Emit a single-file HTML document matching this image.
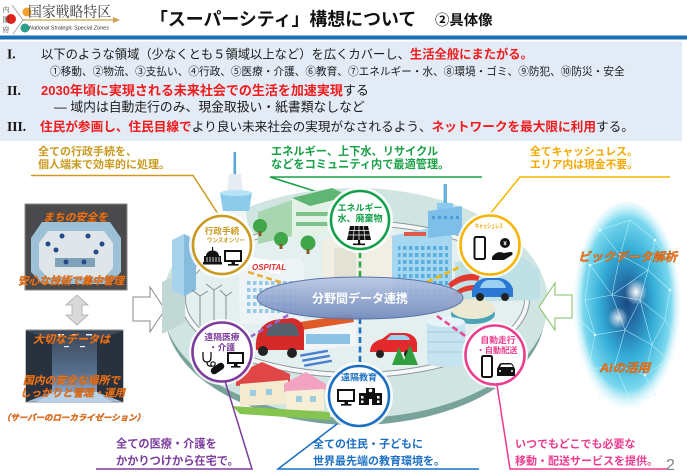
<!DOCTYPE html>
<html lang="ja"><head><meta charset="utf-8"><title>スーパーシティ構想</title>
<style>
html,body{margin:0;padding:0;background:#fff}
svg{display:block}
text{font-family:"Liberation Sans","Noto Sans CJK JP",sans-serif}
.serif{font-family:"Liberation Serif","Noto Serif CJK SC",serif}
.mincho{font-family:"Noto Serif CJK SC","Liberation Serif",serif}
.org{fill:#f27a1c;stroke:#b85410;stroke-width:0.35;font-weight:bold;font-style:italic}
</style></head><body>
<svg width="687" height="473" viewBox="0 0 687 473" xmlns="http://www.w3.org/2000/svg">
<defs>
<radialGradient id="bd" cx="0.5" cy="0.47" r="0.5">
<stop offset="0" stop-color="#1a4a82"/>
<stop offset="0.22" stop-color="#2470a8"/>
<stop offset="0.5" stop-color="#34aed8"/>
<stop offset="0.8" stop-color="#7ad8ee"/>
<stop offset="1" stop-color="#e8fbff" stop-opacity="0"/>
</radialGradient>
<radialGradient id="spot" cx="0.5" cy="0.5" r="0.5">
<stop offset="0" stop-color="#fff"/>
<stop offset="1" stop-color="#fff" stop-opacity="0"/>
</radialGradient>
<linearGradient id="ce" x1="0" y1="0" x2="0" y2="1">
<stop offset="0" stop-color="#b8c7e4" stop-opacity="0.92"/>
<stop offset="1" stop-color="#6f87bb" stop-opacity="0.92"/>
</linearGradient>
<linearGradient id="srv" x1="0" y1="0" x2="0" y2="1">
<stop offset="0" stop-color="#3a4658"/>
<stop offset="0.6" stop-color="#56708e"/>
<stop offset="1" stop-color="#a9c4e2"/>
</linearGradient>
<pattern id="win" width="6" height="7" patternUnits="userSpaceOnUse"><rect x="1" y="1" width="3.5" height="4" fill="#5aaee0"/></pattern>
<clipPath id="oc"><ellipse cx="627" cy="310" rx="48" ry="100"/></clipPath>
</defs>
<rect width="687" height="473" fill="#fff"/>

<!-- ===== header logo ===== -->
<line x1="12" y1="5" x2="23" y2="20" stroke="#9a9a9a" stroke-width="0.8"/>
<line x1="23" y1="20" x2="13" y2="34" stroke="#9a9a9a" stroke-width="0.8"/>
<line x1="23" y1="20" x2="114" y2="20" stroke="#c8a24e" stroke-width="1.2"/>
<polygon points="113,17 120,20 113,23" fill="#c8a24e"/>
<circle cx="27" cy="12" r="4.5" fill="#f2a22c"/>
<circle cx="11" cy="19" r="5" fill="#e3221b"/>
<circle cx="25" cy="28" r="4.5" fill="#2b9e8d"/>
<g font-size="7" fill="#444"><text class="mincho" x="2.5" y="12">内</text><text class="mincho" x="2.5" y="22">閣</text><text class="mincho" x="2.5" y="32">府</text></g>
<text class="mincho" x="28" y="17" font-size="14.5" fill="#3a3a3a" textLength="83" lengthAdjust="spacingAndGlyphs">国家戦略特区</text>
<text x="29" y="29.5" font-size="5.6" font-style="italic" fill="#333" textLength="80" lengthAdjust="spacingAndGlyphs">National Strategic Special Zones</text>

<!-- title -->
<text x="150" y="25.5" font-size="17.9" font-weight="bold" fill="#111">「スーパーシティ」構想について</text>
<text x="435" y="25" font-size="14.4" font-weight="bold" fill="#111">②具体像</text>

<rect x="0" y="35.5" width="687" height="4" fill="#1d6fb6"/>
<rect x="0" y="41.5" width="682" height="99.5" fill="#e3ebf6"/>

<!-- text block -->
<g font-size="13.5" font-weight="bold" fill="#111">
<text class="serif" x="7" y="58.5">I.</text>
<text class="serif" x="7" y="95">II.</text>
<text class="serif" x="7" y="131">III.</text>
</g>
<text x="41" y="58.5" font-size="12.3" fill="#1a1a1a">以下のような領域（少なくとも５領域以上など）を広くカバーし、<tspan fill="#f01c1c" font-weight="bold">生活全般にまたがる。</tspan></text>
<text x="50" y="75" font-size="10.65" fill="#1a1a1a">①移動、②物流、③支払い、④行政、⑤医療・介護、⑥教育、⑦エネルギー・水、⑧環境・ゴミ、⑨防犯、⑩防災・安全</text>
<text x="41" y="95" font-size="13" font-weight="bold" fill="#f01c1c">2030年頃に実現される未来社会での生活を加速実現<tspan fill="#1a1a1a" font-weight="normal">する</tspan></text>
<text x="54" y="111.5" font-size="12.8" fill="#1a1a1a">— 域内は自動走行のみ、現金取扱い・紙書類なしなど</text>
<text x="40" y="131" font-size="12.65" fill="#1a1a1a"><tspan fill="#f01c1c" font-weight="bold">住民が参画し、住民目線で</tspan>より良い未来社会の実現がなされるよう、<tspan fill="#f01c1c" font-weight="bold">ネットワークを最大限に利用</tspan>する。</text>

<!-- ===== callouts top ===== -->
<g font-size="11" font-weight="bold" fill="#c99a1f">
<text x="38" y="155">全ての行政手続を、</text>
<text x="38" y="168">個人端末で効率的に処理。</text>
</g>
<polyline points="31,175.5 193,175.5 220,217" fill="none" stroke="#c99a1f" stroke-width="1.5"/>

<g font-size="11.2" font-weight="bold" fill="#19a047">
<text x="271" y="155">エネルギー、上下水、リサイクル</text>
<text x="271" y="168">などをコミュニティ内で最適管理。</text>
</g>
<polyline points="482,177 270,177 340,199" fill="none" stroke="#19a047" stroke-width="1.5"/>

<g font-size="10.8" font-weight="bold" fill="#f5a800">
<text x="530" y="155">全てキャッシュレス。</text>
<text x="530" y="168">エリア内は現金不要。</text>
</g>
<polyline points="670,177 520,177 490,214" fill="none" stroke="#f7b500" stroke-width="1.5"/>

<!-- ===== left panels ===== -->
<rect x="25" y="204" width="102" height="86" fill="#4a4a4c" stroke="#8a8a8a" stroke-width="1"/>
<polygon points="42,222 110,222 121,238 121,272 110,284 42,284 31,272 31,238" fill="#9cc0d6"/>
<polygon points="48,231 104,231 113,243 113,268 104,278 48,278 39,268 39,243" fill="#dfe6ea"/>
<rect x="55" y="258" width="40" height="9" fill="#7fa2b8"/>
<g fill="#24488a"><circle cx="48" cy="244" r="2.5"/><circle cx="62" cy="236" r="2.5"/><circle cx="88" cy="236" r="2.5"/><circle cx="102" cy="244" r="2.5"/><circle cx="56" cy="250" r="2.5"/><circle cx="96" cy="252" r="2.5"/><circle cx="66" cy="262" r="2.5"/><circle cx="84" cy="262" r="2.5"/></g>
<text class="org" x="43" y="221" font-size="10.8" textLength="65" lengthAdjust="spacingAndGlyphs">まちの安全を</text>
<text class="org" x="18" y="284.5" font-size="10.8" textLength="106" lengthAdjust="spacingAndGlyphs">安心な技術で集中管理</text>

<polygon points="77,295 88,305 82,305 82,315 88,315 77,325 66,315 72,315 72,305 66,305" fill="#d9d9d9" stroke="#a8a8a8" stroke-width="0.8"/>

<rect x="26" y="330" width="97" height="72" fill="url(#srv)" stroke="#8a8a8a" stroke-width="1"/>
<polygon points="26,331 52,340 52,392 26,402" fill="#28323f"/>
<polygon points="123,331 97,340 97,392 123,402" fill="#28323f"/>
<polygon points="52,392 97,392 112,402 37,402" fill="#b9d2ec"/>
<g fill="#e8f0ff"><rect x="58" y="334" width="6" height="1.5"/><rect x="72" y="334" width="6" height="1.5"/><rect x="86" y="334" width="6" height="1.5"/><rect x="64" y="346" width="5" height="1.2"/><rect x="80" y="346" width="5" height="1.2"/></g>
<text class="org" x="33" y="343" font-size="11" textLength="77" lengthAdjust="spacingAndGlyphs">大切なデータは</text>
<text class="org" x="23" y="384" font-size="10.8" textLength="97" lengthAdjust="spacingAndGlyphs">国内の安全な場所で</text>
<text class="org" x="20" y="396.5" font-size="10.5" textLength="105" lengthAdjust="spacingAndGlyphs">しっかりと管理・運用</text>
<text class="org" x="2" y="420.5" font-size="8.4" textLength="143" lengthAdjust="spacingAndGlyphs">（サーバーのローカライゼーション）</text>

<polygon points="133,297 150,297 150,287 165,309.5 150,332 150,321 133,321" fill="#fff" stroke="#8a8a8a" stroke-width="1"/>

<!-- ===== city ===== -->
<ellipse cx="355" cy="313" rx="190" ry="112" fill="#78a39b"/>
<ellipse cx="355" cy="303" rx="193" ry="115" fill="#d0e5e1"/>
<ellipse cx="355" cy="299" rx="172" ry="76" fill="#e4f0ef"/>
<ellipse cx="355" cy="299" rx="172" ry="76" fill="none" stroke="#8d979b" stroke-width="6"/>
<ellipse cx="355" cy="299" rx="172" ry="76" fill="none" stroke="#f6f8f8" stroke-width="4"/>
<!-- left slab -->
<polygon points="162,282 185,270 185,322 162,334" fill="#c2d8d4"/>
<!-- left towers -->
<polygon points="172,240 184,234 196,240 196,290 184,296 172,290" fill="#a7d4ec"/>
<polygon points="184,234 196,240 196,290 184,296" fill="#86bcdc"/>
<!-- tower -->
<rect x="233.5" y="152" width="2.6" height="24" fill="#5aa8d8"/>
<polygon points="229,174 241,174 243,193 227,193" fill="#e6edf2"/>
<path d="M220 193 L252 193 L249 211 L223 211 Z" fill="#8ccbea"/>
<ellipse cx="236" cy="193" rx="16" ry="3" fill="#b8e2f6"/>
<polygon points="226,211 246,211 250,240 222,240" fill="#f2f5f7"/>
<!-- green buildings -->
<polygon points="258,212 292,200 292,236 258,244" fill="#a8d6b0"/>
<polygon points="292,198 332,188 350,196 350,234 292,238" fill="#e4f1e6"/>
<polygon points="292,198 332,188 350,196 310,206" fill="#5fb674"/>
<g fill="#7cc48c"><rect x="296" y="212" width="52" height="4"/><rect x="296" y="222" width="52" height="4"/></g>
<circle cx="260" cy="226" r="7" fill="#3fa64a"/>
<circle cx="281" cy="239" r="7" fill="#3fa64a"/>
<circle cx="308" cy="243" r="7.5" fill="#3fa64a"/>
<rect x="258.5" y="231" width="3" height="5" fill="#8b5a2b"/><rect x="279.5" y="244" width="3" height="5" fill="#8b5a2b"/><rect x="306.5" y="249" width="3" height="5" fill="#8b5a2b"/>
<!-- centre buildings -->
<polygon points="322,240 362,230 402,240 402,292 322,292" fill="#f1efe4"/>
<rect x="334" y="248" width="22" height="30" fill="#e4e2d2"/>
<!-- right office -->
<polygon points="392,236 430,228 452,236 452,300 392,302" fill="#a6d7f1"/>
<rect x="398" y="246" width="50" height="50" fill="url(#win)"/>
<rect x="404" y="232" width="22" height="4" fill="#e05a4a"/>
<!-- tall right building -->
<rect x="443.5" y="184" width="3.5" height="22" fill="#6ab2de"/>
<rect x="437" y="203" width="16" height="8" fill="#8ccaf0"/>
<polygon points="428,211 462,206 462,234 428,238" fill="#7ebfea"/>
<g fill="#4a9ed4"><rect x="432" y="216" width="3" height="3"/><rect x="438" y="216" width="3" height="3"/><rect x="444" y="216" width="3" height="3"/><rect x="450" y="216" width="3" height="3"/><rect x="456" y="216" width="3" height="3"/></g>
<!-- right area -->
<polygon points="455,262 520,255 540,270 540,300 455,302" fill="#bfe0e4"/>
<path d="M448 284 q14 -13 32 -9 l-2 6 q-14 -3 -27 7z" fill="#e23a2e"/>
<path d="M452 294 q14 -12 30 -8 l-2 5 q-14 -3 -26 7z" fill="#e23a2e"/>
<ellipse cx="473" cy="314" rx="22" ry="10" fill="#4aa4b4"/>
<ellipse cx="473" cy="309" rx="22" ry="10" fill="#ece8d2"/>
<path d="M472 291 q2 -11 14 -13 l14 0 q10 2 13 11 l0 8 l-41 0z" fill="#2a78d4"/>
<path d="M480 288 q2 -7 8 -8 l10 0 q6 1 8 8z" fill="#9ad0f2"/>
<circle cx="480" cy="297" r="4" fill="#222"/><circle cx="505" cy="297" r="4" fill="#222"/>
<!-- cylinder -->
<rect x="427" y="322" width="38" height="40" fill="#c6e3f0"/>
<ellipse cx="446" cy="362" rx="19" ry="5" fill="#c6e3f0"/>
<ellipse cx="446" cy="322" rx="19" ry="5" fill="#e6f3f8"/>
<g stroke="#a4cde0" stroke-width="1"><line x1="427" y1="332" x2="465" y2="332"/><line x1="427" y1="342" x2="465" y2="342"/><line x1="427" y1="352" x2="465" y2="352"/></g>
<!-- red car -->
<path d="M370 352 q0 -10 12 -13 l8 -6 l16 0 q10 2 11 10 l0 9 z" fill="#e3292b"/>
<path d="M386 340 l5 -5 l13 0 q5 1 6 5z" fill="#9cd0f0"/>
<circle cx="380" cy="354" r="4" fill="#222"/><circle cx="408" cy="354" r="4" fill="#222"/>
<polygon points="392,365 399,347 406,365" fill="#2f9e3e"/>
<polygon points="402,365 410,345 418,365" fill="#2f9e3e"/>
<!-- hospital -->
<polygon points="238,262 300,258 304,268 304,322 240,324" fill="#eef4f6"/>
<rect x="246" y="280" width="50" height="36" fill="url(#win)" opacity="0.6"/>
<polygon points="250,257 282,262 280,274 250,269" fill="#fff"/>
<text x="252" y="270" font-size="8" font-weight="bold" font-style="italic" fill="#e03030">OSPITAL</text>
<!-- wind turbines -->
<g stroke="#7f8f96" stroke-width="1" fill="none">
<line x1="200" y1="296" x2="200" y2="326"/><line x1="200" y1="296" x2="192" y2="290"/><line x1="200" y1="296" x2="208" y2="291"/><line x1="200" y1="296" x2="200" y2="305"/>
<line x1="214" y1="290" x2="214" y2="322"/><line x1="214" y1="290" x2="206" y2="284"/><line x1="214" y1="290" x2="222" y2="285"/>
<line x1="226" y1="296" x2="226" y2="320"/><line x1="226" y1="296" x2="220" y2="290"/><line x1="226" y1="296" x2="232" y2="292"/>
</g>
<!-- convenience store -->
<polygon points="300,322 352,314 356,320 356,346 302,350" fill="#f1f5f5"/>
<polygon points="300,322 352,314 354,322 302,330" fill="#e05a2a"/>
<rect x="306" y="334" width="44" height="10" fill="#8cc2e2"/>
<g fill="#4a7fd0"><rect x="300" y="352" width="28" height="2.5" transform="rotate(-10 314 353)"/><rect x="302" y="357" width="28" height="2.5" transform="rotate(-10 316 358)"/><rect x="304" y="362" width="28" height="2.5" transform="rotate(-10 318 363)"/></g>
<!-- red autonomous vehicle -->
<path d="M256 350 q-2 -24 18 -30 l18 -2 q12 2 12 14 l0 18 z" fill="#d42a2a"/>
<path d="M266 336 q2 -12 12 -13 l12 0 q8 1 9 13z" fill="#55606c"/>
<circle cx="263" cy="351" r="5" fill="#222"/><circle cx="292" cy="353" r="5" fill="#222"/>
<!-- houses -->
<polygon points="236,374 262,362 290,374 290,382 236,386" fill="#e04646"/>
<polygon points="240,384 288,380 288,404 240,406" fill="#f3ead0"/>
<polygon points="284,384 306,372 326,384 326,390 284,392" fill="#f2a3c2"/>
<polygon points="286,391 324,389 324,410 286,412" fill="#f6eed6"/>
<g fill="#9ccce0"><rect x="250" y="390" width="6" height="6"/><rect x="266" y="389" width="6" height="6"/><rect x="296" y="396" width="6" height="6"/><rect x="310" y="396" width="6" height="6"/></g>
<polygon points="232,406 330,412 330,420 240,414" fill="#86c450"/>

<!-- dashed connectors -->
<g stroke-width="2.6" stroke-dasharray="6 3.5" fill="none">
<line x1="248" y1="272" x2="283" y2="283" stroke="#e8b030"/>
<line x1="360" y1="252" x2="360" y2="278" stroke="#2aa84a"/>
<line x1="427" y1="282" x2="462" y2="266" stroke="#f5b800"/>
<line x1="250" y1="337" x2="290" y2="314" stroke="#9a68c8"/>
<line x1="360" y1="318" x2="360" y2="364" stroke="#2070c0"/>
<line x1="437" y1="316" x2="468" y2="338" stroke="#e84890"/>
</g>

<!-- centre ellipse -->
<ellipse cx="360" cy="298" rx="103" ry="21" fill="url(#ce)" stroke="#5a74a8" stroke-width="1"/>
<text x="360" y="302.5" font-size="12" font-weight="bold" fill="#fff" text-anchor="middle">分野間データ連携</text>

<!-- circles -->
<g fill="#fff" opacity="0.85">
<circle cx="222" cy="245" r="33"/><circle cx="360" cy="220" r="33"/><circle cx="490" cy="245" r="33"/>
<circle cx="222" cy="352" r="33"/><circle cx="359" cy="396" r="34"/><circle cx="495" cy="355" r="33"/>
</g>
<g fill="#fff" stroke-width="2.6">
<circle cx="222" cy="245" r="29" stroke="#c99a1f"/>
<circle cx="360" cy="220" r="29" stroke="#12a04a"/>
<circle cx="490" cy="245" r="29.5" stroke="#f7b500"/>
<circle cx="222" cy="352" r="29.5" stroke="#7b3c9c"/>
<circle cx="359" cy="396" r="30" stroke="#1b6fc2"/>
<circle cx="495" cy="355" r="29.5" stroke="#ec3c8e"/>
</g>

<!-- circle: 行政 -->
<text x="222" y="234" font-size="8.6" font-weight="bold" fill="#c99a1f" text-anchor="middle">行政手続</text>
<text x="207" y="242.5" font-size="6" font-weight="bold" fill="#c99a1f" textLength="38" lengthAdjust="spacingAndGlyphs">ワンスオンリー</text>
<g fill="#111">
<rect x="203" y="262" width="19" height="2.5"/><rect x="204" y="256" width="17" height="6"/>
<path d="M206 256 a6.5 5.5 0 0 1 13 0z"/><rect x="212" y="247" width="1.2" height="4"/>
</g>
<g stroke="#fff" stroke-width="0.8"><line x1="207" y1="257" x2="207" y2="262"/><line x1="210" y1="257" x2="210" y2="262"/><line x1="213" y1="257" x2="213" y2="262"/><line x1="216" y1="257" x2="216" y2="262"/><line x1="219" y1="257" x2="219" y2="262"/></g>
<rect x="225" y="251" width="16" height="10" fill="#fff" stroke="#111" stroke-width="2"/>
<rect x="231.5" y="262" width="3.5" height="2.5" fill="#111"/><rect x="228" y="264" width="10.5" height="1.6" fill="#111"/>

<!-- circle: energy -->
<text x="360" y="211" font-size="9" font-weight="bold" fill="#12a04a" text-anchor="middle">エネルギー</text>
<text x="360" y="221.5" font-size="9" font-weight="bold" fill="#12a04a" text-anchor="middle">水、廃棄物</text>
<polygon points="350,226 368,226 371,240 347,240" fill="#111"/>
<g stroke="#fff" stroke-width="0.7"><line x1="349" y1="230.5" x2="369" y2="230.5"/><line x1="348" y1="235" x2="370" y2="235"/><line x1="354.5" y1="226" x2="353" y2="240"/><line x1="359" y1="226" x2="359" y2="240"/><line x1="363.5" y1="226" x2="365" y2="240"/></g>
<rect x="358" y="240" width="2.2" height="4" fill="#111"/><rect x="353" y="243.5" width="12" height="1.6" fill="#111"/>

<!-- circle: cashless -->
<text x="475" y="228" font-size="6.5" font-weight="bold" fill="#e8a800" textLength="28" lengthAdjust="spacingAndGlyphs">キャッシュレス</text>
<rect x="474.5" y="237" width="10.5" height="22" rx="1.5" fill="#fff" stroke="#111" stroke-width="2"/>
<circle cx="505" cy="243" r="5" fill="#111"/>
<text x="505" y="245.5" font-size="6" font-weight="bold" fill="#fff" text-anchor="middle">¥</text>
<path d="M492 257 q5 -7 12 -4 l6 -1 q4 0 2 3 l-8 5 l-12 0z" fill="#111"/>

<!-- circle: medical -->
<text x="222" y="340" font-size="8.8" font-weight="bold" fill="#7b3c9c" text-anchor="middle">遠隔医療</text>
<text x="222" y="350.5" font-size="8.8" font-weight="bold" fill="#7b3c9c" text-anchor="middle">・介護</text>
<path d="M203 352 v5 q0 5 4 5 q4 0 4 -5 v-5" fill="none" stroke="#111" stroke-width="1.3"/>
<path d="M207 362 q0 5 5 4" fill="none" stroke="#111" stroke-width="1.3"/>
<circle cx="213" cy="364" r="2.2" fill="none" stroke="#111" stroke-width="1.2"/>
<rect x="210" y="365" width="15" height="7" rx="3.5" transform="rotate(-35 217.5 368.5)" fill="#111"/>
<rect x="228" y="353" width="15" height="10" fill="#fff" stroke="#111" stroke-width="2"/>
<rect x="234" y="364" width="3.5" height="2.5" fill="#111"/><rect x="231" y="366" width="9.5" height="1.6" fill="#111"/>

<!-- circle: education -->
<text x="359" y="380.5" font-size="9" font-weight="bold" fill="#1b6fc2" text-anchor="middle">遠隔教育</text>
<rect x="338" y="390" width="16" height="11" fill="#fff" stroke="#111" stroke-width="2"/>
<rect x="344.5" y="402" width="3.5" height="2.5" fill="#111"/><rect x="341" y="404" width="10.5" height="1.6" fill="#111"/>
<path d="M359 393 h7 v-5 h9 v5 h7 v12 h-23z" fill="#111"/>
<circle cx="370.5" cy="390.5" r="1.8" fill="#fff"/>
<g fill="#fff"><rect x="361" y="396" width="2.5" height="2.5"/><rect x="377" y="396" width="2.5" height="2.5"/><rect x="361" y="400.5" width="2.5" height="2.5"/><rect x="377" y="400.5" width="2.5" height="2.5"/><rect x="369" y="399" width="3" height="6"/></g>

<!-- circle: autonomous -->
<text x="498" y="343" font-size="8.8" font-weight="bold" fill="#ec3c8e" text-anchor="middle">自動走行</text>
<text x="497" y="353" font-size="8.2" font-weight="bold" fill="#ec3c8e" text-anchor="middle">・自動配送</text>
<rect x="482" y="356" width="10" height="21" rx="1.5" fill="#fff" stroke="#111" stroke-width="2"/>
<path d="M497 376 v-7 l2 -4 q1 -2 3 -2 h8 q2 0 3 2 l2 4 v7z" fill="#111"/>
<path d="M500 367 l1.5 -2.5 h10 l1.5 2.5z" fill="#fff"/>
<circle cx="500" cy="371" r="1" fill="#fff"/><circle cx="512" cy="371" r="1" fill="#fff"/>

<!-- green left arrow -->
<polygon points="539,307 555,283 555,295 572,295 572,318 555,318 555,330" fill="#fff" stroke="#7cc060" stroke-width="1"/>

<!-- big data oval -->
<ellipse cx="627" cy="310" rx="55" ry="108" fill="url(#bd)"/>
<g clip-path="url(#oc)" stroke="#c8f8ff" stroke-width="0.6" opacity="0.8" fill="none">
<path d="M600 230 L630 220 L655 240 L648 270 L620 255 L600 230 M630 220 L620 255 L590 265 L585 300 L612 295 L620 255 M648 270 L670 290 L665 320 L640 300 L648 270 M612 295 L640 300 L625 330 L612 295 M585 300 L595 335 L625 330 L652 345 L665 320 M595 335 L588 370 L615 365 L625 330 M652 345 L645 375 L615 365 M652 345 L668 360 L645 375 L655 395 L630 400 L615 365 M588 370 L600 395 L630 400 M590 265 L612 295 M648 270 L612 295 M640 300 L652 345 M610 212 L640 208 L660 225 M582 245 L600 230 M672 265 L655 240 M580 320 L595 335 M674 335 L665 320 M610 415 L630 400 L648 412"/>
</g>
<g fill="#e0fcff"><circle cx="600" cy="230" r="1.3"/><circle cx="655" cy="240" r="1.3"/><circle cx="590" cy="265" r="1.3"/><circle cx="670" cy="290" r="1.3"/><circle cx="595" cy="335" r="1.3"/><circle cx="668" cy="360" r="1.3"/><circle cx="600" cy="395" r="1.3"/><circle cx="655" cy="395" r="1.3"/><circle cx="620" cy="255" r="1.3"/><circle cx="645" cy="375" r="1.3"/></g>
<ellipse cx="636" cy="292" rx="11" ry="13" fill="url(#spot)"/>
<ellipse cx="618" cy="318" rx="10" ry="11" fill="url(#spot)" opacity="0.85"/>
<text class="org" x="578" y="261" font-size="12" textLength="99" lengthAdjust="spacingAndGlyphs">ビックデータ解析</text>
<text class="org" x="600" y="372" font-size="12" textLength="50" lengthAdjust="spacingAndGlyphs">AIの活用</text>

<!-- ===== callouts bottom ===== -->
<g font-size="11.2" font-weight="bold" fill="#7b3c9c">
<text x="116" y="447.5">全ての医療・介護を</text>
<text x="116" y="464.5">かかりつけから在宅で。</text>
</g>
<polyline points="96,469 252,469 225,381" fill="none" stroke="#7b3c9c" stroke-width="1.5"/>

<g font-size="11" font-weight="bold" fill="#1b6fc2">
<text x="313" y="447.5">全ての住民・子どもに</text>
<text x="313" y="464.5">世界最先端の教育環境を。</text>
</g>
<polyline points="479,469 278,469 337,424" fill="none" stroke="#1b6fc2" stroke-width="1.5"/>

<g font-size="11" font-weight="bold" fill="#ec3c8e">
<text x="515" y="447.5">いつでもどこでも必要な</text>
<text x="515" y="464.5">移動・配送サービスを提供。</text>
</g>
<polyline points="668,469 510,469 497,385" fill="none" stroke="#ec3c8e" stroke-width="1.5"/>

<text x="666" y="470" font-size="16" fill="#7f7f7f">2</text>
</svg>
</body></html>
